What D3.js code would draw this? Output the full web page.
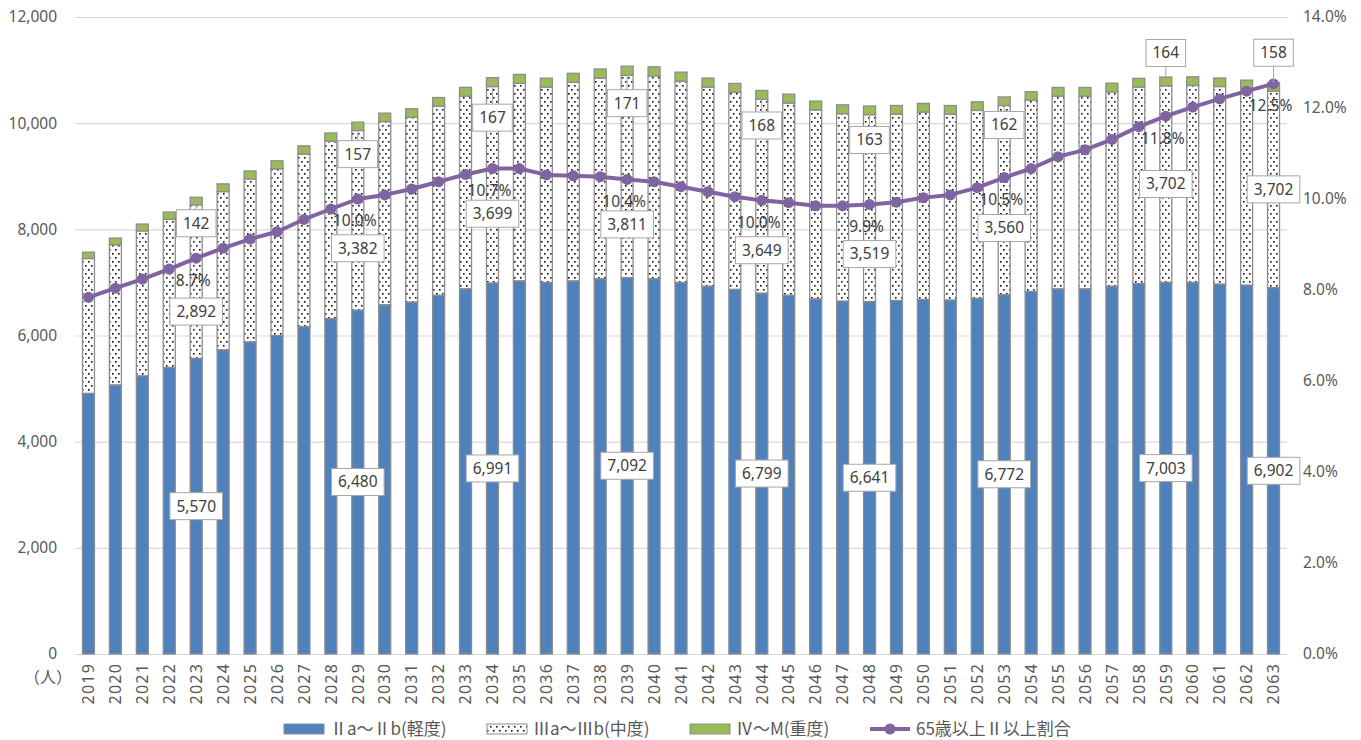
<!DOCTYPE html>
<html>
<head>
<meta charset="utf-8">
<script src="https://cdn.jsdelivr.net/npm/d3@7"></script>
<style>
  body { margin: 0; background: #fff; }
  text { font-family: "Noto Sans", "Noto Sans CJK JP", sans-serif; }
  .cjk { font-family: "Noto Sans CJK JP", sans-serif; }
</style>
</head>
<body>
<svg id="chart" width="1361" height="740"></svg>
<script>
// categories
const years = ["2019","2020","2021","2022","2023","2024","2025","2026","2027","2028",
  "2029","2030","2031","2032","2033","2034","2035","2036","2037","2038",
  "2039","2040","2041","2042","2043","2044","2045","2046","2047","2048",
  "2049","2050","2051","2052","2053","2054","2055","2056","2057","2058",
  "2059","2060","2061","2062","2063"];

// Ⅱa～Ⅱb (mild)
const mild = [4910,5070,5240,5400,5570,5730,5880,6000,6170,6320,
  6480,6580,6630,6760,6880,6991,7030,7000,7030,7070,
  7092,7070,7000,6930,6870,6799,6760,6690,6650,6641,
  6660,6680,6670,6700,6772,6830,6880,6880,6930,6980,
  7003,7000,6970,6950,6902];
// Ⅲa～Ⅲb (moderate)
const moderate = [2540,2640,2730,2790,2892,2980,3070,3140,3250,3340,
  3382,3450,3480,3560,3630,3699,3720,3680,3740,3780,
  3811,3820,3790,3750,3710,3649,3620,3560,3530,3519,
  3510,3530,3500,3540,3560,3600,3630,3630,3660,3700,
  3702,3710,3720,3700,3702];
// Ⅳ～M (severe)
const severe = [120,125,130,136,142,146,149,151,153,155,
  157,159,161,163,165,167,168,168,169,170,
  171,171,171,170,169,168,167,166,165,163,
  163,162,162,162,162,162,163,163,163,164,
  164,163,161,160,158];
// 65歳以上Ⅱ以上割合 (%)
const rate = [7.84,8.04,8.24,8.46,8.70,8.92,9.12,9.28,9.55,9.78,
  10.0,10.09,10.22,10.38,10.54,10.67,10.67,10.53,10.51,10.49,
  10.43,10.38,10.27,10.16,10.05,9.97,9.92,9.85,9.85,9.88,
  9.93,10.03,10.09,10.25,10.47,10.67,10.93,11.08,11.31,11.59,
  11.82,12.02,12.20,12.37,12.53];

const leftTicks = [0,2000,4000,6000,8000,10000,12000];
const rightTicks = [0,2,4,6,8,10,12,14];
const labelYears = ["2023","2029","2034","2039","2044","2048","2053","2059","2063"];

// label nudges (px) as placed in the original
const midShift = {"2023":30,"2029":28,"2034":29,"2039":48,"2044":54,"2048":46,"2053":28,"2059":0,"2063":0};
const topShift = {"2023":26,"2029":32,"2034":40,"2039":37,"2044":35,"2048":34,"2053":28,"2059":-24,"2063":-30};

const legendItems = [
  {name:"Ⅱa～Ⅱb(軽度)", kind:"mild", x:284},
  {name:"Ⅲa～Ⅲb(中度)", kind:"moderate", x:487},
  {name:"Ⅳ～M(重度)", kind:"severe", x:690},
  {name:"65歳以上Ⅱ以上割合", kind:"line", x:870}
];

const rows = years.map((y,i) => ({year:y, mild:mild[i], moderate:moderate[i], severe:severe[i], rate:rate[i]}));

const plotL = 75, plotR = 1287, plotT = 17, plotB = 654;
const svg = d3.select("#chart");

const x = d3.scaleBand().domain(years).range([plotL, plotR]).paddingInner(0.555).paddingOuter(0.2775);
const y = d3.scaleLinear().domain([0,12000]).range([plotB, plotT]);
const y2 = d3.scaleLinear().domain([0,14]).range([plotB, plotT]);

// pattern for the dotted series
const defs = svg.append("defs");
const pat = defs.append("pattern").attr("id","dots").attr("patternUnits","userSpaceOnUse")
  .attr("width",6).attr("height",8);
pat.append("rect").attr("width",6).attr("height",8).attr("fill","#fff");
pat.append("rect").attr("x",1).attr("y",1).attr("width",1.6).attr("height",1.6).attr("fill","#111");
pat.append("rect").attr("x",4).attr("y",5).attr("width",1.6).attr("height",1.6).attr("fill","#111");

// gridlines
svg.append("g").attr("transform",`translate(${plotL},0)`)
  .call(d3.axisLeft(y).tickValues(leftTicks).tickSize(-(plotR-plotL)).tickFormat(""))
  .call(g => g.select(".domain").remove())
  .call(g => g.selectAll("line").attr("stroke","#d9d9d9").attr("stroke-width",1.2));

// left axis
svg.append("g").attr("transform",`translate(${plotL},0)`)
  .call(d3.axisLeft(y).tickValues(leftTicks).tickSize(0).tickPadding(18).tickFormat(d3.format(",")))
  .call(g => g.select(".domain").remove())
  .call(g => g.selectAll("text").attr("fill","#595959").style("font-size","15.5px").style("font-family","Noto Sans"));

// right axis
svg.append("g").attr("transform",`translate(${plotR},0)`)
  .call(d3.axisRight(y2).tickValues(rightTicks).tickSize(0).tickPadding(16).tickFormat(d => d.toFixed(1)+"%"))
  .call(g => g.select(".domain").remove())
  .call(g => g.selectAll("text").attr("fill","#595959").style("font-size","15.5px").style("font-family","Noto Sans"));

// bottom axis (years, rotated)
svg.append("g").attr("transform",`translate(0,${plotB})`)
  .call(d3.axisBottom(x).tickSize(0).tickPadding(0))
  .call(g => g.select(".domain").remove())
  .call(g => g.selectAll("text")
    .attr("fill","#595959").style("font-size","16px").style("letter-spacing","1.2px")
    .attr("text-anchor","end").attr("transform","rotate(-90)")
    .attr("x",-9).attr("y",0).attr("dy","0.36em"));

svg.append("text").attr("class","cjk").attr("x",72).attr("y",683).attr("text-anchor","end")
  .attr("fill","#595959").style("font-size","16px").text("（人）");

// stacked bars
const keys = ["mild","moderate","severe"];
const fills = {mild:"#4f81bd", moderate:"url(#dots)", severe:"#9bbb59"};
const stacked = d3.stack().keys(keys)(rows);
svg.append("g").selectAll("g").data(stacked).join("g")
  .attr("fill", d => fills[d.key])
  .selectAll("rect").data(d => d).join("rect")
  .attr("x", d => x(d.data.year))
  .attr("width", x.bandwidth())
  .attr("y", d => y(d[1]))
  .attr("height", d => y(d[0]) - y(d[1]))
  .attr("stroke","#8c8c8c").attr("stroke-width",1.3);

// rate line
const cx = d => x(d.year) + x.bandwidth()/2;
svg.append("path").datum(rows)
  .attr("fill","none").attr("stroke","#8064a2").attr("stroke-width",4).attr("stroke-linejoin","round")
  .attr("d", d3.line().x(cx).y(d => y2(d.rate)));
svg.append("g").selectAll("circle").data(rows).join("circle")
  .attr("cx", cx).attr("cy", d => y2(d.rate)).attr("r",5.5).attr("fill","#8064a2");

// data labels
const labelled = rows.filter(d => labelYears.includes(d.year));
const lab = svg.append("g");
const fmt = d3.format(",");

function boxLabel(g, px, py, txt) {
  const grp = g.append("g");
  const rect = grp.append("rect");
  const t = grp.append("text").attr("x",px).attr("y",py).attr("dy","0.35em")
    .attr("text-anchor","middle").attr("fill","#404040").style("font-size","15.5px").text(txt);
  const w = t.node().getComputedTextLength() + 13;
  const h = 27;
  rect.attr("x",px-w/2).attr("y",py-h/2).attr("width",w).attr("height",h)
    .attr("fill","#fff").attr("stroke","#a6a6a6").attr("stroke-width",1);
}

labelled.forEach(d => {
  const px = cx(d);
  // percentage text
  lab.append("text").attr("x",px-3).attr("y",y2(d.rate)+22).attr("dy","0.35em")
    .attr("text-anchor","middle").attr("fill","#404040").style("font-size","15.5px")
    .text(d.rate.toFixed(1)+"%");
  // blue value
  boxLabel(lab, px, y(d.mild/2), fmt(d.mild));
  // dotted value
  boxLabel(lab, px, y(d.mild + d.moderate/2) + midShift[d.year], fmt(d.moderate));
  // severe value with leader line
  const topY = y(d.mild + d.moderate + d.severe);
  const ly = topY + topShift[d.year];
  const edge = topShift[d.year] > 0 ? ly - 13.5 : ly + 13.5;
  if (Math.abs(edge - topY) > 3) {
    lab.insert("line",":first-child").attr("x1",px).attr("x2",px).attr("y1",topY).attr("y2",edge)
      .attr("stroke","#a6a6a6").attr("stroke-width",1);
  }
  boxLabel(lab, px, ly, fmt(d.severe));
});

// legend
const lg = svg.append("g").attr("transform","translate(0,729)");
legendItems.forEach(it => {
  if (it.kind === "line") {
    lg.append("line").attr("x1",it.x).attr("x2",it.x+40).attr("y1",0).attr("y2",0)
      .attr("stroke","#8064a2").attr("stroke-width",4);
    lg.append("circle").attr("cx",it.x+20).attr("cy",0).attr("r",5.5).attr("fill","#8064a2");
  } else {
    lg.append("rect").attr("x",it.x).attr("y",-5).attr("width",40).attr("height",10)
      .attr("fill",fills[it.kind]).attr("stroke","#8c8c8c").attr("stroke-width",1);
  }
  lg.append("text").attr("class","cjk").attr("x",it.x+46).attr("y",0).attr("dy","0.36em")
    .attr("fill","#595959").style("font-size","17px").text(it.name);
});
</script>
</body>
</html>
